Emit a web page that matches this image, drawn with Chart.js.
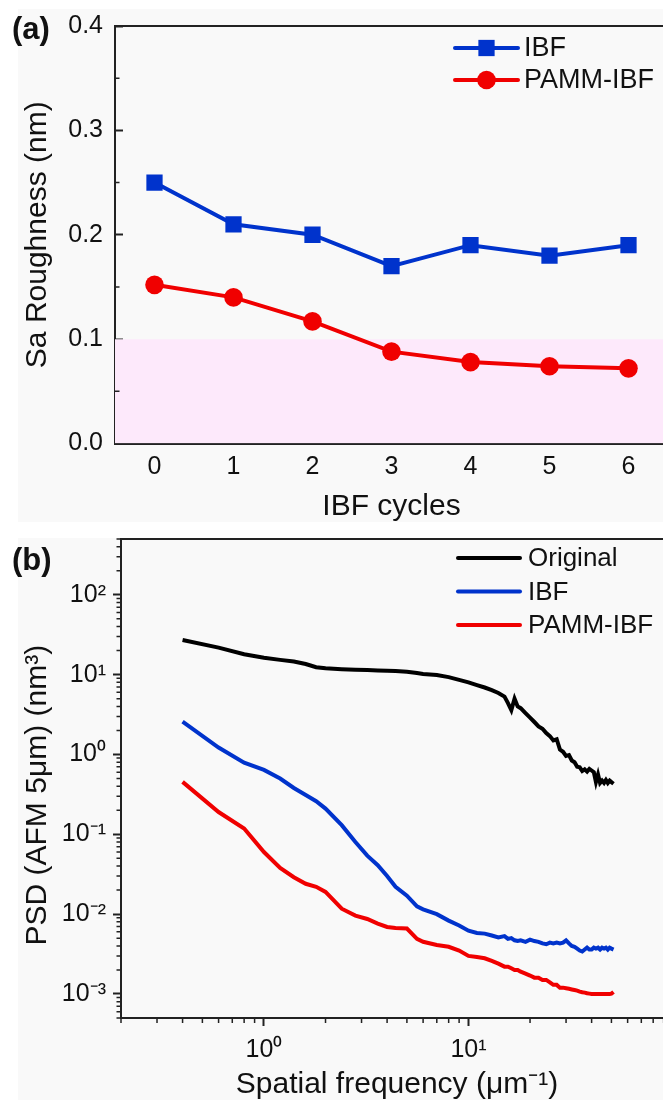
<!DOCTYPE html>
<html>
<head>
<meta charset="utf-8">
<script src="https://cdn.jsdelivr.net/npm/chart.js@4.4.1/dist/chart.umd.min.js"></script>
<style>
  body { margin: 0; background: #fff; overflow: hidden; }
  #page { position: relative; width: 663px; height: 1100px; overflow: hidden; background: #fff; }
  .panel { position: absolute; background: #f9f9f9; }
  canvas { position: absolute; left: 0; }
  .tag { position: absolute; left: 12px; font: bold 31px/31px 'Liberation Sans', Arial, sans-serif; color: #111; }
</style>
</head>
<body>
<div id="page">
  <div class="panel" style="left:18px;top:9px;width:645px;height:513px"></div>
  <div class="panel" style="left:18px;top:538px;width:645px;height:562px"></div>
  <canvas id="chart-1" width="669" height="530" style="top:0"></canvas>
  <canvas id="chart-2" width="674" height="580" style="top:530px"></canvas>
  <div class="tag" style="top:13px">(a)</div>
  <div class="tag" style="top:544px">(b)</div>
</div>
<script>
var FONT = "'Liberation Sans', Arial, sans-serif";
var INK = '#111';
var AXIS = '#222';
var BLUE = '#0033cc';
var RED = '#f00000';
var PINK = '#fde9fb';

// (a) Sa roughness per IBF cycle
var cycles = [0, 1, 2, 3, 4, 5, 6];
var ibfSa = [0.25, 0.21, 0.20, 0.17, 0.19, 0.18, 0.19];
var pammSa = [0.152, 0.14, 0.117, 0.088, 0.078, 0.074, 0.072];
var saTicks = [0, 0.1, 0.2, 0.3, 0.4];
var saMinor = [0.05, 0.15, 0.25, 0.35];
var saTarget = 0.1;
var cycleMin = -0.5, cycleMax = 6.5;

// (b) PSD from 5um AFM scans
var freq = [0.4, 0.6, 0.8, 1.0, 1.2, 1.4, 1.6, 1.8, 2.0,
  2.4, 2.8, 3.2, 3.6, 4.0, 4.4,
  5.0, 5.6, 6.0,
  7, 8, 9, 10,
  11, 12, 13, 14, 15,
  15.6, 16.2, 16.8, 17.4,
  18, 19, 20,
  21, 22, 23, 24, 25, 26, 27, 28, 29,
  30, 31, 32, 33, 34, 35, 36, 37, 38, 39,
  40, 41, 42, 43, 44, 45, 46, 47, 48, 49,
  50, 51.2];
var psdOriginal = [27.2, 21.8, 18.0, 16.3, 15.3, 14.6, 13.6, 12.4, 12.0,
  11.7, 11.5, 11.4, 11.3, 11.2, 11.1,
  10.9, 10.5, 10.2,
  9.9, 9.3, 8.6, 8.0,
  7.4, 6.9, 6.4, 5.9, 5.3,
  4.4, 3.6, 5.0, 4.0,
  3.8, 3.3, 2.9,
  2.55, 2.25, 2.1, 1.85, 1.7, 1.5, 1.55, 1.15, 1.08,
  0.96, 0.98, 0.84, 0.80, 0.70, 0.69, 0.62, 0.65, 0.61, 0.66,
  0.63, 0.60, 0.45, 0.56, 0.44, 0.47, 0.44, 0.48, 0.44, 0.47,
  0.45, 0.43];
var psdIbf = [2.57, 1.22, 0.79, 0.64, 0.50, 0.38, 0.31, 0.26, 0.21,
  0.13, 0.080, 0.054, 0.041, 0.030, 0.022,
  0.017, 0.0125, 0.0115,
  0.0100, 0.0083, 0.0072, 0.0062,
  0.0058, 0.0057, 0.0054, 0.0051, 0.0053,
  0.0049, 0.0050, 0.0047, 0.0046,
  0.0047, 0.0045, 0.0048,
  0.0046, 0.0045, 0.0043, 0.0042, 0.0044, 0.0043, 0.0044, 0.0043, 0.0044,
  0.0047, 0.0043, 0.0040, 0.0039, 0.0037, 0.0035, 0.0034, 0.0036, 0.0038, 0.0036,
  0.0036, 0.0038, 0.0037, 0.0038, 0.0036, 0.0038, 0.0037, 0.0038, 0.0036, 0.0038,
  0.0037, 0.0036];
var psdPamm = [0.454, 0.19, 0.118, 0.060, 0.038, 0.029, 0.024, 0.022, 0.019,
  0.0117, 0.0096, 0.0087, 0.0076, 0.0069, 0.0067,
  0.0066, 0.0049, 0.0045,
  0.0041, 0.0039, 0.0035, 0.0030,
  0.0029, 0.0028, 0.0026, 0.0024, 0.0022,
  0.0022, 0.0021, 0.0020, 0.0020,
  0.0019, 0.0018, 0.0017,
  0.0016, 0.0016, 0.0015, 0.0015, 0.0014, 0.0013, 0.0013, 0.0012, 0.0012,
  0.00118, 0.00116, 0.00114, 0.00112, 0.00110, 0.00107, 0.00105, 0.00104, 0.00102, 0.00101,
  0.00100, 0.00100, 0.00100, 0.00100, 0.00100, 0.00100, 0.00100, 0.00100, 0.00100, 0.00100,
  0.00101, 0.00106];
var psdTicks = [0.001, 0.01, 0.1, 1, 10, 100];
var freqTicks = [1, 10];
var psdMin = 5e-4, psdMax = 500;
var freqMin = 0.2, freqMax = 100;

function xy(xs, ys) {
  return xs.map(function (x, i) { return {x: x, y: ys[i]}; });
}

// 2..9 x 10^e for each decade, used for the short log ticks
function logMinors(lo, hi) {
  var out = [];
  for (var e = lo; e <= hi; e++) {
    for (var m = 2; m <= 9; m++) out.push(m * Math.pow(10, e));
  }
  return out;
}

var SUP = {'-': '\u207b', '0': '\u2070', '1': '\u00b9', '2': '\u00b2', '3': '\u00b3',
  '4': '\u2074', '5': '\u2075', '6': '\u2076', '7': '\u2077', '8': '\u2078', '9': '\u2079'};
function pow10Label(v) {
  var e = String(Math.round(Math.log10(v)));
  return '10' + e.split('').map(function (c) { return SUP[c]; }).join('');
}

// pin axis size and drop the extra room kept for edge labels
function noPad(s) {
  s.paddingLeft = 0;
  s.paddingRight = 0;
  s.paddingTop = 0;
  s.paddingBottom = 0;
}
function fixWidth(w) { return function (s) { s.width = w; noPad(s); }; }
function fixHeight(h) { return function (s) { s.height = h; noPad(s); }; }
function setTicks(values) {
  return function (s) { s.ticks = values.map(function (v) { return {value: v}; }); };
}

// plain border line for the top / right side of the frame
function frameAxis(position, size) {
  return {
    type: 'linear', position: position, display: true,
    ticks: {display: false},
    grid: {display: false, drawTicks: false},
    border: {display: true, color: AXIS, width: 2},
    afterFit: size
  };
}

// short unlabeled ticks; positive length points into the plot
var minorTicks = {
  id: 'minorTicks',
  afterDraw: function (chart, args, opts) {
    var ctx = chart.ctx, area = chart.chartArea;
    ctx.save();
    ctx.strokeStyle = AXIS;
    ctx.lineWidth = 1.5;
    ctx.beginPath();
    (opts.sets || []).forEach(function (set) {
      var scale = chart.scales[set.scale];
      set.values.forEach(function (v) {
        var p = scale.getPixelForValue(v);
        if (scale.isHorizontal()) {
          if (p < area.left - 0.5 || p > area.right + 0.5) return;
          ctx.moveTo(p, area.bottom);
          ctx.lineTo(p, area.bottom - set.length);
        } else {
          if (p < area.top - 0.5 || p > area.bottom + 0.5) return;
          ctx.moveTo(area.left, p);
          ctx.lineTo(area.left + set.length, p);
        }
      });
    });
    ctx.stroke();
    ctx.restore();
  }
};

// legend with a line sample and the series marker
var sampleLegend = {
  id: 'sampleLegend',
  afterDraw: function (chart, args, opts) {
    var ctx = chart.ctx;
    var row = 0;
    ctx.save();
    ctx.font = opts.fontSize + 'px ' + FONT;
    ctx.textBaseline = 'middle';
    chart.data.datasets.forEach(function (ds) {
      if (!ds.label) return;
      var y = opts.y + row * opts.rowGap;
      ctx.strokeStyle = ds.borderColor;
      ctx.lineWidth = ds.borderWidth;
      ctx.lineCap = 'round';
      ctx.beginPath();
      ctx.moveTo(opts.x, y);
      ctx.lineTo(opts.x + opts.length, y);
      ctx.stroke();
      if (ds.pointRadius) {
        ctx.fillStyle = ds.pointBackgroundColor;
        Chart.helpers.drawPoint(ctx, {pointStyle: ds.pointStyle, radius: ds.pointRadius, borderWidth: 0, rotation: 0},
          opts.x + opts.length / 2, y);
      }
      ctx.fillStyle = INK;
      ctx.fillText(ds.label, opts.x + opts.length + opts.gap, y + 1);
      row++;
    });
    ctx.restore();
  }
};

var tickFont = {family: FONT, size: 25};
var titleFont = {family: FONT, size: 30};

new Chart(document.getElementById('chart-1'), {
  type: 'line',
  data: {
    datasets: [{
      label: 'IBF',
      data: xy(cycles, ibfSa),
      borderColor: BLUE,
      backgroundColor: BLUE,
      pointBackgroundColor: BLUE,
      borderWidth: 4,
      pointStyle: 'rect',
      pointRadius: 11.5,
      pointBorderWidth: 0,
      order: 1
    }, {
      label: 'PAMM-IBF',
      data: xy(cycles, pammSa),
      borderColor: RED,
      backgroundColor: RED,
      pointBackgroundColor: RED,
      borderWidth: 4,
      pointStyle: 'circle',
      pointRadius: 9.3,
      pointBorderWidth: 0,
      order: 2
    }, {
      label: '',
      data: [{x: cycleMin, y: saTarget}, {x: cycleMax, y: saTarget}],
      borderWidth: 0,
      borderColor: 'rgba(0,0,0,0)',
      backgroundColor: PINK,
      pointRadius: 0,
      fill: 'origin',
      order: 3
    }]
  },
  options: {
    responsive: false,
    animation: false,
    events: [],
    layout: {autoPadding: false, padding: {top: 26, right: 1, bottom: 0, left: 0}},
    plugins: {
      legend: {display: false},
      tooltip: {enabled: false},
      sampleLegend: {x: 455, y: 48, rowGap: 32, length: 63, gap: 6, fontSize: 27},
      minorTicks: {sets: [{scale: 'y', values: saMinor, length: 4.5}]}
    },
    scales: {
      x: {
        type: 'linear',
        min: cycleMin,
        max: cycleMax,
        afterBuildTicks: setTicks(cycles),
        afterFit: fixHeight(86.5),
        grid: {drawOnChartArea: false, tickLength: -9, tickColor: AXIS, tickWidth: 2},
        border: {color: AXIS, width: 2},
        ticks: {padding: 17.5, color: INK, font: tickFont, maxRotation: 0,
          callback: function (v) { return String(v); }},
        title: {display: true, text: 'IBF cycles', color: INK, font: titleFont, padding: {top: 0, bottom: 5}}
      },
      y: {
        type: 'linear',
        min: 0,
        max: 0.4,
        afterBuildTicks: setTicks(saTicks),
        afterFit: fixWidth(115),
        grid: {drawOnChartArea: false, tickLength: -8, tickColor: AXIS, tickWidth: 2},
        border: {color: AXIS, width: 2},
        ticks: {padding: 20, color: INK, font: tickFont,
          callback: function (v) { return v.toFixed(1); }},
        title: {display: true, text: 'Sa Roughness (nm)', color: INK, font: titleFont, padding: {top: 20, bottom: 0}}
      },
      x2: frameAxis('top', fixHeight(0)),
      y2: frameAxis('right', fixWidth(0))
    }
  },
  plugins: [minorTicks, sampleLegend]
});

new Chart(document.getElementById('chart-2'), {
  type: 'line',
  data: {
    datasets: [{
      label: 'Original',
      data: xy(freq, psdOriginal),
      borderColor: '#000',
      borderWidth: 4,
      pointRadius: 0
    }, {
      label: 'IBF',
      data: xy(freq, psdIbf),
      borderColor: BLUE,
      borderWidth: 4,
      pointRadius: 0
    }, {
      label: 'PAMM-IBF',
      data: xy(freq, psdPamm),
      borderColor: RED,
      borderWidth: 4,
      pointRadius: 0
    }]
  },
  options: {
    responsive: false,
    animation: false,
    events: [],
    layout: {autoPadding: false, padding: {top: 9, right: 1, bottom: 0, left: 0}},
    plugins: {
      legend: {display: false},
      tooltip: {enabled: false},
      sampleLegend: {x: 458, y: 28, rowGap: 33.5, length: 62, gap: 8, fontSize: 26},
      minorTicks: {sets: [
        {scale: 'y', values: logMinors(-4, 2), length: -4.5},
        {scale: 'x', values: logMinors(-1, 1), length: -5}
      ]}
    },
    scales: {
      x: {
        type: 'logarithmic',
        min: freqMin,
        max: freqMax,
        afterBuildTicks: setTicks(freqTicks),
        afterFit: fixHeight(92),
        grid: {drawOnChartArea: false, tickLength: 8, tickColor: AXIS, tickWidth: 2},
        border: {color: AXIS, width: 2},
        ticks: {padding: 9, color: INK, font: tickFont, maxRotation: 0, callback: pow10Label},
        title: {display: true, text: 'Spatial frequency (\u03bcm\u207b\u00b9)', color: INK, font: titleFont,
          padding: {top: 0, bottom: 7}}
      },
      y: {
        type: 'logarithmic',
        min: psdMin,
        max: psdMax,
        afterBuildTicks: setTicks(psdTicks),
        afterFit: fixWidth(121),
        grid: {drawOnChartArea: false, tickLength: 8, tickColor: AXIS, tickWidth: 2},
        border: {color: AXIS, width: 2},
        ticks: {padding: 7, color: INK, font: tickFont, callback: pow10Label},
        title: {display: true, text: 'PSD (AFM 5\u03bcm) (nm\u00b3)\u00a0\u00a0\u00a0\u00a0', color: INK, font: titleFont,
          padding: {top: 20, bottom: 0}}
      },
      x2: frameAxis('top', fixHeight(0)),
      y2: frameAxis('right', fixWidth(0))
    }
  },
  plugins: [minorTicks, sampleLegend]
});
</script>
</body>
</html>
